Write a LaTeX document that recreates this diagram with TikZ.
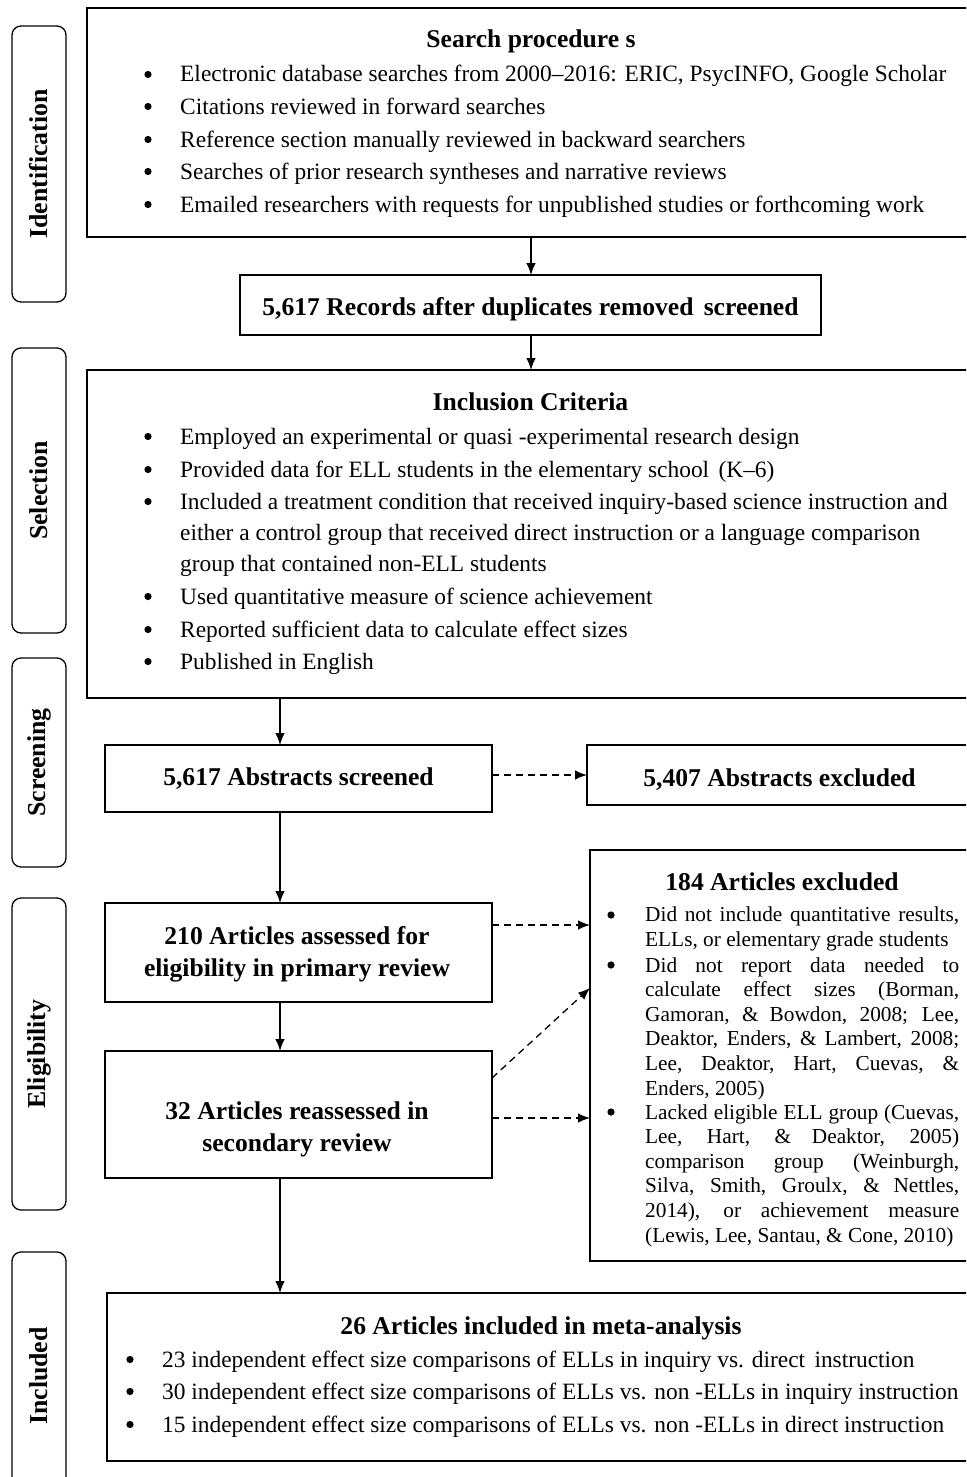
\documentclass[tikz,border=0pt]{standalone}
\usepackage{fontspec}
\setmainfont{Liberation Serif}
\usetikzlibrary{arrows.meta}
\newcommand\bx[5]{\node[box, minimum width={#4-#2}, minimum height={#5-#3}] (#1) at (#2,#3) {};}
\newcommand\sidebox[4]{\node[side, minimum width=54, minimum height={#4-#3}] (#1) at (12,#3) {};
  \node[sidetext] (#1t) at (#1.center) {#2};}
\newcommand\bul[2]{\fill (#1,#2) circle (3.6pt);}
\newcommand\itm[4]{\bul{#1-32}{#2-7.5} \node[tx] (#4) at (#1,#2) {#3};}
\begin{document}
\begin{tikzpicture}[x=1pt,y=-1pt,
  box/.style={draw, line width=1.3pt, inner sep=0pt, outer sep=0pt, anchor=north west},
  side/.style={draw, line width=1.3pt, rounded corners=9pt, inner sep=0pt, outer sep=0pt, anchor=north west},
  sidetext/.style={rotate=90, inner sep=0pt, font=\fontsize{25.8}{28}\selectfont\bfseries},
  arr/.style={-{Latex[length=12pt,width=9.5pt]}, line width=1.3pt},
  darr/.style={arr, dash pattern=on 7pt off 5pt},
  tx/.style={inner sep=0pt, anchor=base west, font=\fontsize{23.4}{31}\selectfont},
  ttl/.style={inner sep=0pt, anchor=base, font=\fontsize{25.6}{32}\selectfont\bfseries, align=center},
  sm/.style={inner sep=0pt, anchor=base west, text width=314pt, align=justify, font=\fontsize{21.3}{24.6}\selectfont}]
\path[use as bounding box, clip] (0,0) rectangle (966,1477);
% side labels
\sidebox{sid}{Identification}{26}{302}
\sidebox{ssel}{Selection}{348}{633}
\sidebox{sscr}{Screening}{658}{867}
\sidebox{selg}{Eligibility}{898}{1210}
\sidebox{sinc}{Included}{1252}{1500}
% boxes
\bx{search}{87}{8}{975}{237}
\bx{records}{240}{275}{821}{335}
\bx{incl}{87}{370}{975}{698}
\bx{screened}{105}{745}{492}{812}
\bx{excl}{587}{745}{975}{805}
\bx{art184}{590}{850}{975}{1261}
\bx{a210}{105}{903}{492}{1002}
\bx{a32}{105}{1051}{492}{1178}
\bx{a26}{107}{1293}{975}{1461}
% search text
\node[ttl] (t1) at (531,48) {Search procedure s};
\itm{180}{82}{Electronic database searches from 2000–2016: ERIC, PsycINFO, Google Scholar}{s1}
\itm{180}{114}{Citations reviewed in forward searches}{s2}
\itm{180}{147}{Reference section manually reviewed in backward searchers}{s3}
\itm{180}{179}{Searches of prior research syntheses and narrative reviews}{s4}
\itm{180}{212}{Emailed researchers with requests for unpublished studies or forthcoming work}{s5}
\node[ttl] (t2) at (530.5,315) {5,617 Records after duplicates removed\hspace{0.15em} screened};
% inclusion
\node[ttl] (t3) at (530.5,410) {Inclusion Criteria};
\itm{180}{444}{Employed an experimental or quasi -experimental research design}{i1}
\itm{180}{477}{Provided data for ELL students in the elementary school\hspace{0.15em} (K–6)}{i2}
\bul{148}{501.5}
\node[tx, align=left] (i3) at (180,571) {Included a treatment condition that received inquiry-based science instruction and\\either a control group that received direct instruction or a language comparison\\group that contained non-ELL students};
\itm{180}{604}{Used quantitative measure of science achievement}{i4}
\itm{180}{637}{Reported sufficient data to calculate effect sizes}{i5}
\itm{180}{669}{Published in English}{i6}
% screening
\node[ttl] (t4) at (298.5,785) {5,617 Abstracts screened};
\node[ttl] (t5) at (779.5,786) {5,407 Abstracts excluded};
% eligibility
\node[ttl] (t6) at (297,976) {210 Articles assessed for\\eligibility in primary review};
\node[ttl] (t7) at (297,1151) {32 Articles reassessed in\\secondary review};
\node[ttl] (t8) at (782,890) {184 Articles excluded};
\bul{611}{915}
\node[sm] (e1) at (645,921.5) {Did not include quantitative results,\linebreak ELLs, or elementary grade students};
\bul{611}{965}
\node[sm] (e2) at (645,972) {Did not report data needed to\linebreak calculate effect sizes (Borman,\linebreak Gamoran, \& Bowdon, 2008; Lee,\linebreak Deaktor, Enders, \& Lambert, 2008;\linebreak Lee, Deaktor, Hart, Cuevas, \&\linebreak Enders, 2005)};
\bul{611}{1112}
\node[sm] (e3) at (645,1119) {Lacked eligible ELL group (Cuevas,\linebreak Lee, Hart, \& Deaktor, 2005)\linebreak comparison group (Weinburgh,\linebreak Silva, Smith, Groulx, \& Nettles,\linebreak 2014), or achievement measure\linebreak (Lewis, Lee, Santau, \& Cone, 2010)};
% included
\node[ttl] (t9) at (541,1334) {26 Articles included in meta-analysis};
\itm{162}{1367}{23 independent effect size comparisons of ELLs in inquiry vs. direct\hspace{0.15em} instruction}{n1}
\itm{162}{1399}{30 independent effect size comparisons of ELLs vs. non -ELLs in inquiry instruction}{n2}
\itm{162}{1432}{15 independent effect size comparisons of ELLs vs. non -ELLs in direct instruction}{n3}
% connectors
\coordinate (spine) at (280,0);
\coordinate (topspine) at (531,0);
\draw[arr] (topspine |- search.south) -- (topspine |- records.north);
\draw[arr] (topspine |- records.south) -- (topspine |- incl.north);
\draw[arr] (spine |- incl.south) -- (spine |- screened.north);
\draw[arr] (spine |- screened.south) -- (spine |- a210.north);
\draw[arr] (spine |- a210.south) -- (spine |- a32.north);
\draw[arr] (spine |- a32.south) -- (spine |- a26.north);
\draw[darr] ([yshift=3.5pt]screened.east) -- ([yshift=3.5pt]screened.east -| excl.west);
\draw[darr] ([yshift=27.5pt]a210.east) -- ([yshift=27.5pt]a210.east -| art184.west);
\draw[darr] ([yshift=-3.5pt]a32.east) -- ([yshift=-3.5pt]a32.east -| art184.west);
\draw[darr] ([yshift=-27pt]a32.north east) -- ([yshift=-138pt]art184.north west);
\end{tikzpicture}
\end{document}
